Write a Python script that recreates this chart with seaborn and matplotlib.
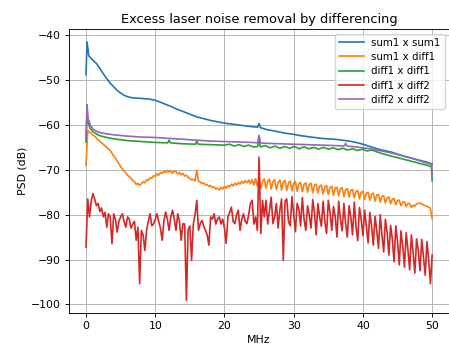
import numpy as np
import pandas as pd
import matplotlib
matplotlib.use("Agg")
import matplotlib.pyplot as plt
import seaborn as sns

title = "Excess laser noise removal by differencing"
labels = ["sum1 x sum1", "sum1 x diff1", "diff1 x diff1", "diff1 x diff2", "diff2 x diff2"]
colors = ["#1f77b4", "#ff7f0e", "#2ca02c", "#d62728", "#9467bd"]

# sum1 x sum1
blue_f = [0, 0.15, 0.4, 1, 1.5, 2, 2.5, 3, 3.5, 4, 4.5, 5, 5.5, 6, 6.5, 7, 8, 9, 10, 11, 12, 13, 14, 15, 16,
          17, 18, 19, 20, 21, 22, 23, 24, 24.8, 25, 25.2, 26, 27, 28, 29, 30, 31, 32, 33, 34, 35, 36, 37,
          38, 39, 40, 41, 42, 43, 44, 45, 46, 47, 48, 49, 50]
blue_v = [-48.8, -41.5, -44.6, -45.6, -46.3, -47.4, -48.6, -49.7, -50.7, -51.5, -52.3, -52.9, -53.4, -53.7,
          -53.9, -54.0, -54.1, -54.2, -54.5, -55.1, -55.7, -56.4, -57.0, -57.6, -58.2, -58.6, -59.0, -59.3,
          -59.6, -59.8, -60.0, -60.2, -60.4, -60.5, -59.7, -60.6, -61.0, -61.3, -61.6, -61.9, -62.1, -62.4,
          -62.6, -62.8, -63.0, -63.1, -63.2, -63.4, -63.6, -63.9, -64.3, -64.8, -65.3, -65.7, -66.0, -66.5,
          -67.0, -67.4, -67.8, -68.2, -68.7]

# diff2 x diff2
purple_f = [0, 0.15, 0.3, 0.6, 1, 1.5, 2, 3, 4, 6, 8, 10, 12, 14, 16, 18, 20, 22, 24, 24.8, 25, 25.2, 26,
            28, 30, 32, 34, 36, 37.3, 37.5, 37.7, 39, 40, 41, 42, 43, 44, 45, 46, 47, 48, 49, 49.9, 50]
purple_v = [-63.0, -55.5, -58.5, -60.0, -60.9, -61.4, -61.7, -62.0, -62.2, -62.5, -62.7, -62.8, -63.0,
            -63.2, -63.4, -63.6, -63.7, -63.8, -63.9, -64.0, -62.3, -64.0, -64.1, -64.2, -64.3, -64.4,
            -64.5, -64.6, -64.7, -64.1, -64.7, -64.9, -65.1, -65.3, -65.6, -65.9, -66.2, -66.6, -67.0,
            -67.4, -67.9, -68.4, -68.8, -71.3]

# diff1 x diff1
green_f = [0, 0.15, 0.3, 0.6, 1, 1.5, 2, 3, 4, 6, 8, 10, 11.8, 12, 12.2, 14, 15.8, 16, 16.2, 18, 20, 20.7,
           21.4, 22.1, 22.8, 23.5, 24.2, 24.8, 25, 25.2, 25.9, 26.6, 27.3, 28.0, 28.7, 29.4, 30.1, 30.8,
           31.5, 32.2, 32.9, 33.6, 34.3, 35.0, 35.7, 36.4, 37.1, 37.8, 38.5, 39.2, 39.9, 40.6, 41.3, 42,
           43, 44, 45, 46, 47, 48, 49, 49.9, 50]
green_v = [-63.8, -57.5, -59.5, -60.8, -61.5, -62.0, -62.4, -62.8, -63.1, -63.5, -63.7, -63.9, -64.0,
           -63.4, -64.0, -64.2, -64.3, -63.6, -64.3, -64.4, -64.5, -64.3, -64.7, -64.4, -64.8, -64.5,
           -64.9, -64.8, -63.3, -64.9, -64.6, -65.1, -64.7, -65.2, -64.8, -65.2, -64.8, -65.3, -64.9,
           -65.3, -65.0, -65.4, -65.0, -65.4, -65.1, -65.5, -65.2, -65.6, -65.3, -65.7, -65.4, -65.8,
           -65.6, -66.0, -66.5, -66.9, -67.3, -67.7, -68.1, -68.5, -68.9, -69.3, -72.5]

# sum1 x diff1 (0 .. 50 MHz, 0.25 MHz steps)
orange_v = [
    -69.0, -61.2, -61.6, -61.9, -62.3, -62.5, -62.9, -63.3, -63.6, -64.0, -64.3, -64.7, -65.0, -65.4,
    -65.7, -66.3, -66.9, -67.4, -68.0, -68.6, -69.3, -69.8, -70.3, -70.7, -71.2, -71.5, -71.9, -72.4,
    -72.6, -73.3, -73.0, -73.5, -73.1, -72.7, -72.9, -72.2, -72.4, -71.8, -71.9, -71.3, -71.5, -70.9,
    -71.2, -70.6, -70.8, -70.3, -70.6, -70.1, -70.5, -70.2, -70.8, -70.3, -70.4, -70.9, -70.6, -71.1,
    -70.8, -71.4, -71.2, -71.7, -71.9, -72.3, -72.1, -72.5, -70.1, -72.6, -72.7, -73.1, -72.9, -73.4,
    -73.3, -73.7, -73.5, -74.0, -73.8, -74.3, -74.1, -74.5, -73.9, -74.3, -73.7, -74.1, -73.5, -73.8,
    -73.2, -73.6, -73.0, -73.4, -72.8, -73.2, -72.6, -73.0, -72.4, -72.9, -72.3, -73.1, -72.2, -73.4,
    -72.0, -73.6, -72.0, -74.2, -72.6, -72.0, -74.1, -72.5, -72.1, -74.3, -72.6, -72.2, -74.4, -72.8,
    -72.3, -74.5, -72.7, -72.4, -74.6, -72.9, -72.5, -74.7, -73.0, -72.6, -74.8, -73.1, -72.8, -74.9,
    -73.2, -72.9, -75.0, -73.3, -73.0, -75.1, -73.4, -73.2, -75.2, -73.6, -73.4, -75.4, -73.8, -73.5,
    -75.5, -73.9, -73.7, -75.7, -74.0, -73.9, -75.8, -74.2, -74.0, -76.0, -74.4, -74.2, -76.1, -74.6,
    -74.4, -76.3, -74.8, -74.6, -76.5, -75.0, -74.8, -76.6, -75.2, -75.0, -76.8, -75.4, -75.2, -77.0,
    -75.6, -75.5, -77.2, -75.9, -75.8, -77.4, -76.2, -76.1, -77.6, -76.5, -76.4, -77.8, -76.8, -76.8,
    -78.0, -77.2, -77.1, -78.2, -77.5, -77.5, -78.4, -77.9, -78.1, -77.6, -77.5, -77.4, -77.6, -77.8,
    -78.0, -78.2, -78.3, -78.6, -80.9]

# diff1 x diff2 (0 .. 50 MHz, 0.25 MHz steps)
red_v = [
    -87.2, -76.5, -80.5, -77.0, -75.3, -76.5, -78.0, -77.5, -79.3, -78.5, -80.5, -79.5, -82.8, -79.8,
    -80.5, -86.5, -79.8, -81.0, -83.9, -81.5, -80.5, -79.8, -81.5, -82.8, -80.5, -81.0, -83.0, -82.1,
    -81.5, -85.7, -82.8, -95.4, -83.5, -84.5, -88.0, -83.5, -81.5, -79.8, -82.5, -82.1, -81.0, -79.8,
    -81.5, -83.0, -85.7, -81.5, -79.4, -81.0, -83.5, -80.5, -79.0, -81.0, -83.5, -79.8, -81.5, -85.7,
    -82.0, -82.1, -99.1, -83.5, -82.5, -90.2, -82.1, -80.0, -76.8, -83.5, -82.0, -81.3, -82.5, -83.5,
    -84.5, -86.8, -80.5, -81.0, -79.8, -82.1, -81.0, -80.5, -82.1, -81.0, -83.0, -86.4, -80.5, -79.5,
    -78.3, -81.5, -82.0, -80.0, -79.0, -83.5, -81.0, -79.8, -81.5, -82.0, -80.0, -77.5, -76.8, -82.1,
    -80.5, -83.5, -67.2, -84.2, -76.8, -80.5, -76.8, -82.1, -79.0, -76.1, -82.0, -80.5, -77.5, -83.0,
    -79.0, -76.5, -90.2, -77.0, -76.5, -81.5, -82.5, -76.0, -80.0, -83.8, -77.5, -78.8, -82.5, -76.2,
    -81.0, -83.5, -78.0, -80.0, -83.0, -76.6, -79.5, -84.5, -77.5, -80.5, -82.6, -77.0, -81.5, -84.2,
    -76.8, -79.5, -83.5, -78.2, -80.5, -85.0, -77.0, -81.0, -83.6, -77.5, -82.0, -85.0, -78.0, -80.5,
    -84.5, -77.2, -82.5, -85.8, -78.4, -81.0, -84.7, -79.0, -82.6, -86.3, -79.5, -82.5, -86.8, -80.4,
    -83.5, -87.5, -80.0, -84.5, -88.3, -81.0, -84.0, -89.0, -82.4, -85.5, -90.5, -82.5, -86.0, -91.2,
    -83.6, -87.0, -91.7, -84.0, -87.8, -92.3, -84.5, -88.5, -93.0, -85.4, -88.0, -92.5, -85.5, -89.4,
    -93.5, -86.0, -90.0, -95.4, -89.0]

series = [
    (labels[0], blue_f, blue_v),
    (labels[1], list(np.linspace(0, 50, len(orange_v))), orange_v),
    (labels[2], green_f, green_v),
    (labels[3], list(np.linspace(0, 50, len(red_v))), red_v),
    (labels[4], purple_f, purple_v),
]
frames = [pd.DataFrame({"MHz": f, "PSD": v, "series": name}) for name, f, v in series]
df = pd.concat(frames, ignore_index=True)

plt.rcParams.update({
    "font.size": 7.8,
    "axes.linewidth": 0.65,
    "xtick.major.size": 2.7,
    "ytick.major.size": 2.7,
    "xtick.major.width": 0.65,
    "ytick.major.width": 0.65,
    "xtick.major.pad": 2.7,
    "ytick.major.pad": 2.7,
})

fig = plt.figure(figsize=(4.49, 3.46), dpi=100)
ax = fig.add_axes([0.153, 0.0945, 0.848, 0.8217])
sns.lineplot(data=df, x="MHz", y="PSD", hue="series", hue_order=labels, palette=colors,
             sort=False, estimator=None, linewidth=1.2, ax=ax)
ax.set_xlim(-2.5, 52.5)
ax.set_ylim(-101.98, -38.62)
ax.set_yticks([-100, -90, -80, -70, -60, -50, -40])
ax.set_xticks([0, 10, 20, 30, 40, 50])
ax.grid(True, color="#b0b0b0", linewidth=0.65)
ax.set_axisbelow(True)
ax.set_xlabel("MHz", labelpad=3)
ax.set_ylabel("PSD (dB)", labelpad=3)
ax.set_title(title, fontsize=9.3, pad=4.5)
ax.legend(loc="upper right", title=None, fontsize=7.4, borderaxespad=0.45,
          labelspacing=0.42, handlelength=2.4, handletextpad=0.7)
fig.savefig("out.png", dpi=100)
